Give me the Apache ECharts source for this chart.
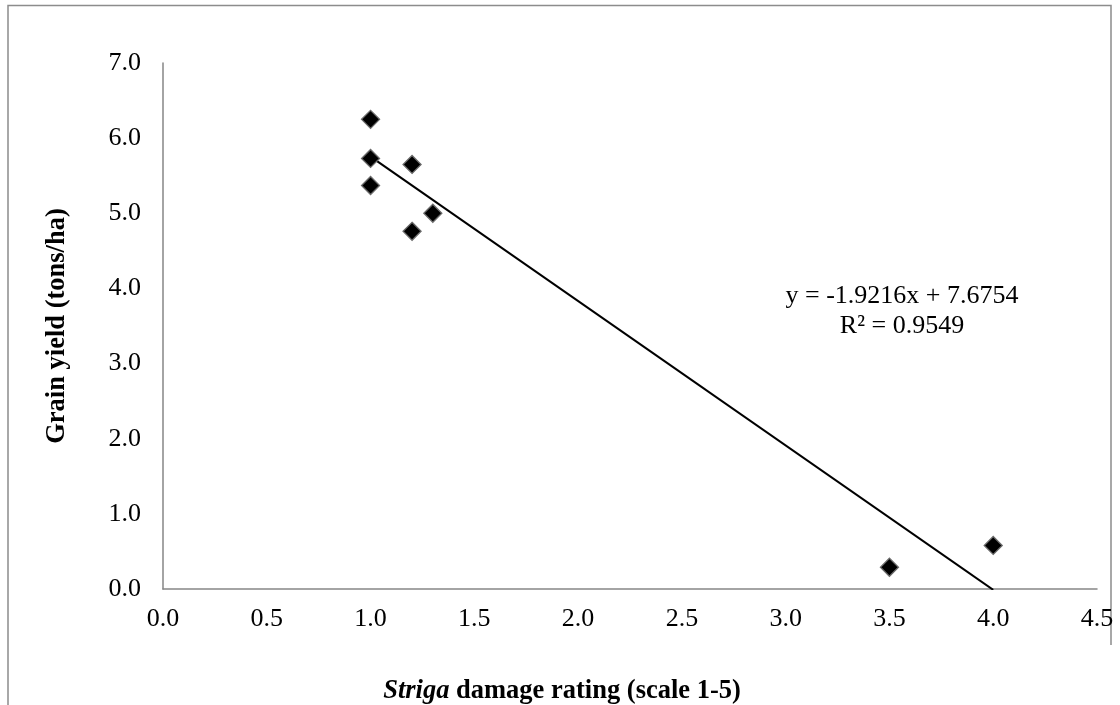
<!DOCTYPE html>
<html>
<head>
<meta charset="utf-8">
<script src="https://cdn.jsdelivr.net/npm/echarts@6/dist/echarts.min.js"></script>
<style>html,body{margin:0;padding:0;background:#fff}#c{width:1120px;height:705px}</style>
</head>
<body>
<div id="c"></div>
<script>
const damageRating = [1.0, 1.0, 1.0, 1.2, 1.2, 1.3, 3.5, 4.0];
const grainYield = [6.25, 5.73, 5.37, 5.65, 4.76, 5.00, 0.29, 0.58];
const trendSlope = -1.9216;
const trendIntercept = 7.6754;
const trendR2 = 0.9549;
const xTitleItalic = 'Striga';
const xTitleRest = ' damage rating (scale 1-5)';
const yTitle = 'Grain yield (tons/ha)';

const points = damageRating.map((x, i) => [x, grainYield[i]]);
const xMin = Math.min(...damageRating), xMax = Math.max(...damageRating);
const trend = [[xMin, trendSlope * xMin + trendIntercept], [xMax, trendSlope * xMax + trendIntercept]];

const FONT = '"Liberation Serif", "Times New Roman", serif';
const chart = echarts.init(document.getElementById('c'), null, {renderer: 'canvas'});
chart.setOption({
  animation: false,
  backgroundColor: '#fff',
  grid: {left: 163, top: 63, right: 23, bottom: 116, containLabel: false},
  xAxis: {
    type: 'value', min: 0, max: 4.5, interval: 0.5,
    axisLine: {show: true, lineStyle: {color: '#868686', width: 1.5}},
    axisTick: {show: false},
    splitLine: {show: false},
    axisLabel: {color: '#000', fontFamily: FONT, fontSize: 26, margin: 17,
      formatter: v => v.toFixed(1)}
  },
  yAxis: {
    type: 'value', min: 0, max: 7, interval: 1,
    axisLine: {show: true, lineStyle: {color: '#868686', width: 1.5}},
    axisTick: {show: false},
    splitLine: {show: false},
    axisLabel: {color: '#000', fontFamily: FONT, fontSize: 26, margin: 22,
      formatter: v => v.toFixed(1)},
    name: yTitle, nameLocation: 'middle', nameRotate: 90, nameGap: 92,
    nameTextStyle: {fontFamily: FONT, fontSize: 26.5, fontWeight: 'bold', color: '#000'}
  },
  series: [
    {
      type: 'line', data: trend, symbol: 'none', silent: true,
      lineStyle: {color: '#000', width: 2}, z: 2
    },
    {
      type: 'scatter', data: points, symbol: 'diamond', symbolSize: 18,
      itemStyle: {color: '#000', opacity: 1, borderColor: '#6a6a6a', borderWidth: 1.3}, z: 3
    }
  ],
  graphic: [
    {type: 'polyline', shape: {points: [[8, 705], [8, 5.5], [1111, 5.5], [1111, 645]]},
     style: {stroke: '#8c8c8c', lineWidth: 1.5, fill: null}, silent: true},
    {type: 'text', x: 902, y: 281, style: {
      text: 'y = ' + trendSlope.toFixed(4) + 'x + ' + trendIntercept.toFixed(4) + '\nR² = ' + trendR2.toFixed(4),
      font: '26px ' + FONT, fill: '#000', align: 'center', verticalAlign: 'top', lineHeight: 30}},
    {type: 'text', x: 562, y: 691, style: {
      text: '{i|' + xTitleItalic + '}{b|' + xTitleRest + '}',
      align: 'center', verticalAlign: 'middle',
      rich: {
        i: {fontFamily: FONT, fontSize: 26.5, fontWeight: 'bold', fontStyle: 'italic', fill: '#000'},
        b: {fontFamily: FONT, fontSize: 26.5, fontWeight: 'bold', fill: '#000'}
      }}}
  ]
});
</script>
</body>
</html>
